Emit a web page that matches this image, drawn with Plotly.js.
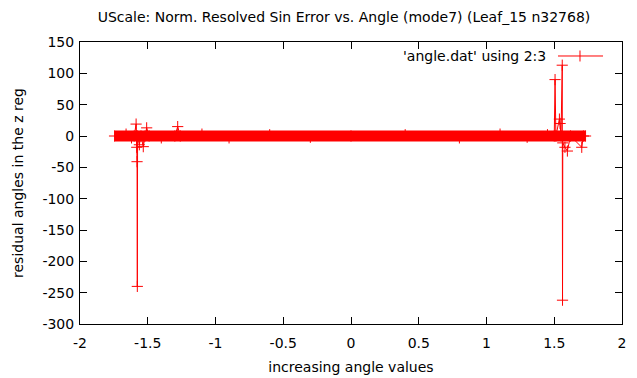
<!DOCTYPE html>
<html>
<head>
<meta charset="utf-8">
<script src="https://cdn.plot.ly/plotly-3.0.1.min.js"></script>
<style>html,body{margin:0;padding:0;background:#fff;}#chart{width:637px;height:378px;}</style>
</head>
<body>
<div id="chart"></div>
<script>
// angle.dat column 2 (angle) and column 3 (residual) — the dense core near 0 plus visible outliers
const angleX = [-1.745, -1.66, -1.62, -1.60, -1.586, -1.583, -1.581, -1.579, -1.577, -1.575,
  -1.562, -1.55, -1.533, -1.52, -1.508, -1.49, -1.40, -1.30, -1.279, -1.26,
  -1.10, -0.90, -0.60, -0.30, 0.00, 0.40, 0.80, 1.10, 1.30, 1.45,
  1.50, 1.506, 1.512, 1.538, 1.543, 1.55, 1.559, 1.561, 1.563, 1.579,
  1.597, 1.62, 1.703, 1.715, 1.731];
const residual = [0, 3, -3, 0, 19, 0, -18, -41, -240, 0,
  -14, 0, -17, 0, 13, 0, -3, 0, 15, 0,
  3, -3, 2, -2, 0, 2, -3, 3, -2, 2,
  0, 90, 0, 27, 20, 0, 113, -262, -11, -18,
  -24, 0, -18, 0, 0];
// extent of the dense cluster of points lying on zero
const coreX = [-1.745, 1.731];
const coreY = [0, 0];

const xTickVals = [-2, -1.5, -1, -0.5, 0, 0.5, 1, 1.5, 2];
const xTickText = ['-2', '-1.5', '-1', '-0.5', '0', '0.5', '1', '1.5', '2'];
const yTickVals = [150, 100, 50, 0, -50, -100, -150, -200, -250, -300];
const yTickText = ['150', '100', '50', '0', '-50', '-100', '-150', '-200', '-250', '-300'];

const seriesName = "'angle.dat' using 2:3";
const red = '#ff0000';
const font = 'DejaVu Sans, Liberation Sans, sans-serif';
const fs = 14;

const traces = [
  {x: coreX, y: coreY, type: 'scatter', mode: 'lines', line: {color: red, width: 11},
   hoverinfo: 'skip', showlegend: false},
  {x: angleX, y: residual, type: 'scatter', mode: 'lines+markers', name: seriesName,
   line: {color: red, width: 1},
   marker: {symbol: 'cross-thin', size: 8, color: red, line: {color: red, width: 1}},
   showlegend: false}
];

const axisCommon = {
  ticks: 'inside', ticklen: 7, tickwidth: 1, tickcolor: '#000',
  showline: true, linecolor: '#000', linewidth: 1, mirror: 'ticks',
  showgrid: false, zeroline: false,
  tickfont: {family: font, size: fs, color: '#000'}
};

const layout = {
  width: 637, height: 378,
  margin: {l: 80, r: 15, t: 42, b: 54},
  paper_bgcolor: '#fff', plot_bgcolor: '#fff',
  font: {family: font, size: fs, color: '#000'},
  title: {text: 'UScale: Norm. Resolved Sin Error vs. Angle (mode7) (Leaf_15 n32768)',
          x: 344/637, xref: 'container', xanchor: 'center',
          y: 1 - 17/378, yref: 'container', yanchor: 'middle',
          font: {family: font, size: fs, color: '#000'}},
  xaxis: Object.assign({}, axisCommon, {
    range: [-2, 2], tickmode: 'array', tickvals: xTickVals, ticktext: xTickText,
    ticklabelstandoff: 6,
    title: {text: 'increasing angle values', standoff: 12, font: {family: font, size: fs, color: '#000'}}
  }),
  yaxis: Object.assign({}, axisCommon, {
    range: [-300, 150], tickmode: 'array', tickvals: yTickVals, ticktext: yTickText,
    ticklabelstandoff: 2,
    title: {text: 'residual angles in the z reg', standoff: 15, font: {family: font, size: fs, color: '#000'}}
  }),
  showlegend: false,
  annotations: [
    {text: seriesName, xref: 'paper', yref: 'paper', x: 0.8635, y: 0.9504,
     xanchor: 'right', yanchor: 'middle', showarrow: false,
     font: {family: font, size: fs, color: '#000'}}
  ],
  shapes: [
    {type: 'line', xref: 'paper', yref: 'paper', x0: 0.8819, x1: 0.965, y0: 0.9504, y1: 0.9504,
     line: {color: red, width: 1}},
    {type: 'line', xref: 'paper', yref: 'paper', xsizemode: 'pixel', ysizemode: 'pixel',
     xanchor: 0.9225, yanchor: 0.9504, x0: 0, x1: 0, y0: -5.5, y1: 5.5,
     line: {color: red, width: 1}}
  ]
};

Plotly.newPlot('chart', traces, layout, {displayModeBar: false, staticPlot: true});
</script>
</body>
</html>
